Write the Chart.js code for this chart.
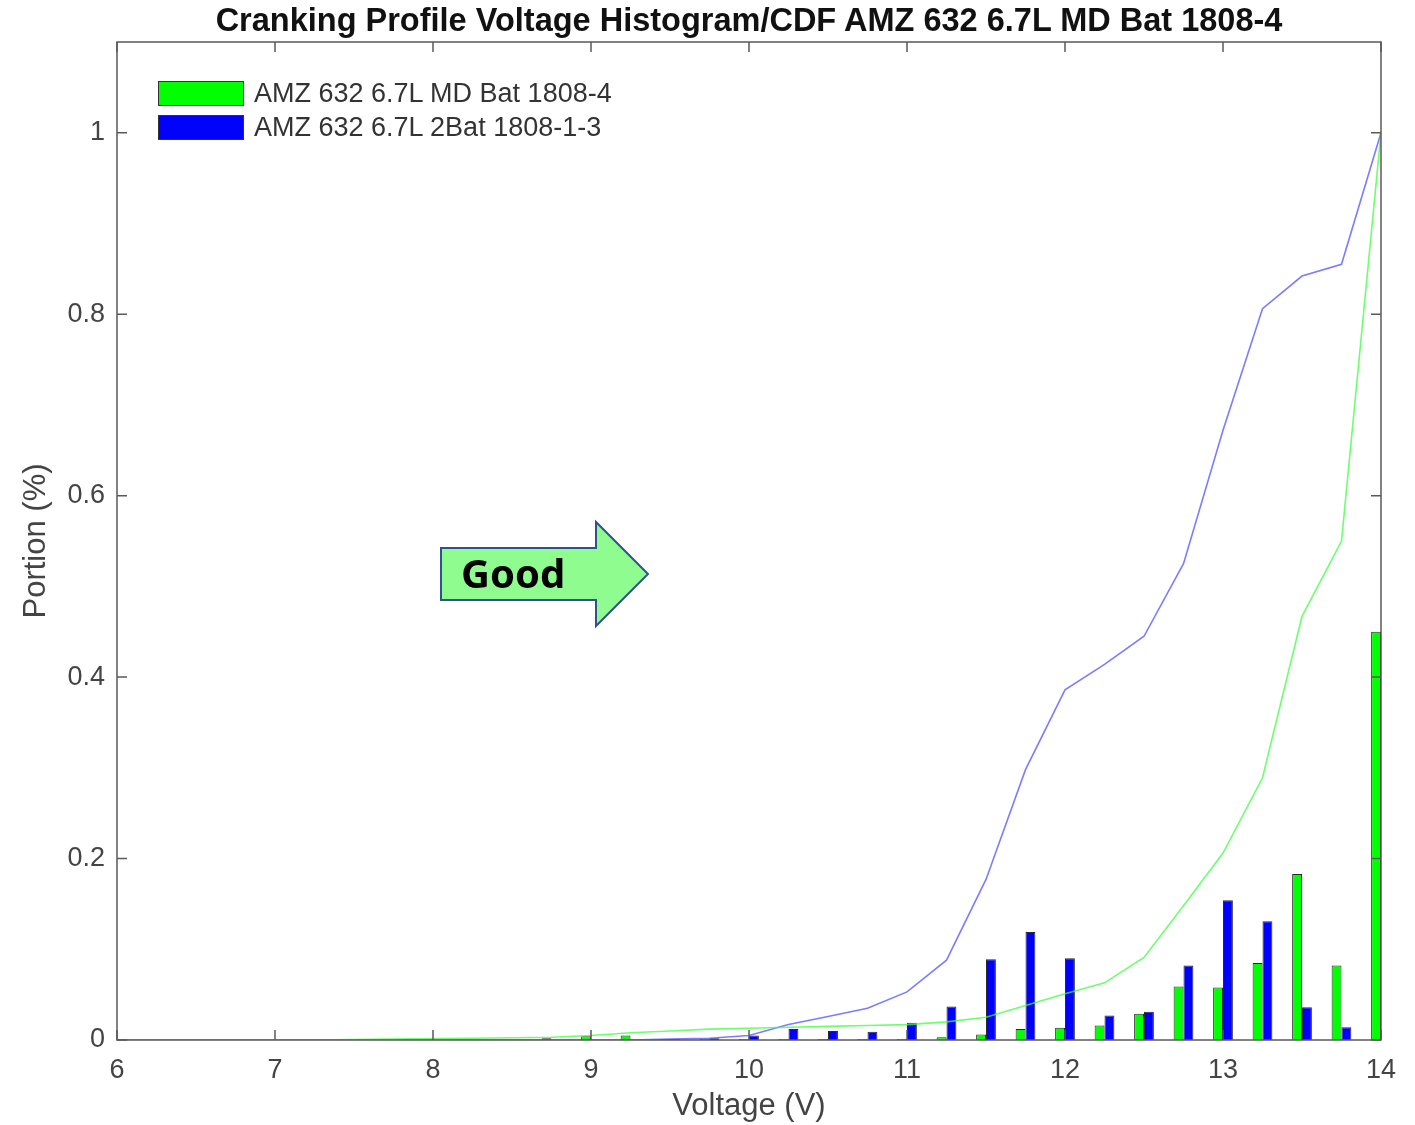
<!DOCTYPE html>
<html lang="en">
<head>
<meta charset="UTF-8">
<title>Cranking Profile Voltage Histogram/CDF</title>
<style>
  body { margin: 0; background: #fff; }
  #wrap { position: relative; width: 1415px; height: 1125px; }
  #title { position: absolute; left: 117px; width: 1264px; top: 3px; text-align: center; white-space: nowrap;
           font-family: "Liberation Sans", Arial, sans-serif; font-weight: bold; font-size: 32.5px; line-height: 34px; color: #111; }
  .legend-row { position: absolute; left: 158px; height: 25px; display: flex; align-items: center;
                font-family: "Liberation Sans", Arial, sans-serif; font-size: 27px; color: #333; }
  .swatch { width: 84px; height: 23px; border: 1px solid #333; margin-right: 10px; }
  #arrow { position: absolute; left: 0; top: 0; pointer-events: none; }
</style>
</head>
<body>
<div id="wrap">
  <canvas id="chart" width="1415" height="1125"></canvas>
  <div id="title">Cranking Profile Voltage Histogram/CDF AMZ 632 6.7L MD Bat 1808-4</div>
  <div class="legend-row" style="top:81px"><div class="swatch" style="background:#00ff00"></div>AMZ 632 6.7L MD Bat 1808-4</div>
  <div class="legend-row" style="top:115px"><div class="swatch" style="background:#0000ff"></div>AMZ 632 6.7L 2Bat 1808-1-3</div>
  <svg id="arrow" width="1415" height="1125">
    <polygon points="441,548 596,548 596,522 648,574 596,626 596,600 441,600"
             fill="#8efc8e" stroke="#2f528f" stroke-width="2"/>
    <text x="461" y="588" font-family="'Noto Sans', sans-serif" font-weight="bold" font-size="40" fill="#000">Good</text>
  </svg>
</div>

<script src="https://cdn.jsdelivr.net/npm/chart.js"></script>
<script>
// voltage bins (V), 0.25 V apart
const voltageBins = [6, 6.25, 6.5, 6.75, 7, 7.25, 7.5, 7.75, 8, 8.25, 8.5, 8.75, 9, 9.25, 9.5, 9.75,
                     10, 10.25, 10.5, 10.75, 11, 11.25, 11.5, 11.75, 12, 12.25, 12.5, 12.75, 13, 13.25, 13.5, 13.75, 14];

// histogram portions
const mdBatHist = [0, 0, 0, 0, 0, 0, 0, 0, 0, 0, 0, 0.002, 0.004, 0.005, 0.001, 0.001,
                   0.001, 0.001, 0.001, 0.001, 0.001, 0.003, 0.006, 0.012, 0.0135, 0.016, 0.029, 0.059, 0.058, 0.085, 0.183, 0.082, 0.45];
const twoBatHist = [0, 0, 0, 0, 0, 0, 0, 0, 0, 0, 0, 0, 0, 0, 0.001, 0.002,
                    0.005, 0.012, 0.010, 0.009, 0.019, 0.037, 0.089, 0.119, 0.090, 0.027, 0.031, 0.082, 0.154, 0.131, 0.036, 0.014, 0];

// cumulative curves
const mdBatCdf = [0, 0, 0, 0, 0, 0, 0.0005, 0.001, 0.0015, 0.002, 0.0025, 0.003, 0.005, 0.008, 0.010, 0.012,
                  0.013, 0.014, 0.015, 0.016, 0.017, 0.020, 0.025, 0.038, 0.051, 0.063, 0.091, 0.148, 0.206, 0.289, 0.467, 0.55, 1.0];
const twoBatCdf = [0, 0, 0, 0, 0, 0, 0, 0, 0, 0, 0, 0, 0, 0, 0.001, 0.002,
                   0.005, 0.017, 0.026, 0.035, 0.053, 0.088, 0.177, 0.298, 0.386, 0.414, 0.445, 0.525, 0.672, 0.806, 0.842, 0.855, 1.0];

const xTicks = [6, 7, 8, 9, 10, 11, 12, 13, 14];
const yTicks = [0, 0.2, 0.4, 0.6, 0.8, 1];

const pts = arr => arr.map((v, i) => ({ x: voltageBins[i], y: v }));

Chart.defaults.font.family = '"Liberation Sans", Arial, Helvetica, sans-serif';
Chart.defaults.color = '#444';

// box around the plot with inward ticks on all four sides
const framePlugin = {
  id: 'frame',
  afterDatasetsDraw(chart) {
    const { ctx, chartArea: a, scales: { x, y } } = chart;
    ctx.save();
    ctx.strokeStyle = '#5a5a5a';
    ctx.lineWidth = 1.5;
    ctx.strokeRect(a.left, a.top, a.right - a.left, a.bottom - a.top);
    ctx.beginPath();
    x.ticks.forEach(t => {
      const px = x.getPixelForValue(t.value);
      ctx.moveTo(px, a.bottom); ctx.lineTo(px, a.bottom - 10);
      ctx.moveTo(px, a.top); ctx.lineTo(px, a.top + 10);
    });
    y.ticks.forEach(t => {
      const py = y.getPixelForValue(t.value);
      ctx.moveTo(a.left, py); ctx.lineTo(a.left + 10, py);
      ctx.moveTo(a.right, py); ctx.lineTo(a.right - 10, py);
    });
    ctx.stroke();
    ctx.restore();
  }
};

new Chart(document.getElementById('chart'), {
  type: 'bar',
  data: {
    datasets: [
      { type: 'line', data: pts(mdBatCdf), borderColor: 'rgba(60,255,60,0.75)', borderWidth: 1.6,
        pointRadius: 0, fill: false, order: 0 },
      { type: 'line', data: pts(twoBatCdf), borderColor: 'rgba(80,80,255,0.75)', borderWidth: 1.6,
        pointRadius: 0, fill: false, order: 0 },
      { label: 'AMZ 632 6.7L MD Bat 1808-4', data: pts(mdBatHist), backgroundColor: '#00ff00',
        borderColor: '#2a2a2a', borderWidth: 1, order: 1 },
      { label: 'AMZ 632 6.7L 2Bat 1808-1-3', data: pts(twoBatHist), backgroundColor: '#0000ff',
        borderColor: '#2a2a2a', borderWidth: 1, order: 1 }
    ]
  },
  options: {
    responsive: false,
    animation: false,
    categoryPercentage: 0.5,
    barPercentage: 1,
    layout: { padding: { top: 42, right: 34, left: 0, bottom: 0 } },
    plugins: {
      legend: { display: false },
      tooltip: { enabled: false },
      title: { display: false }
    },
    scales: {
      x: {
        type: 'linear', min: 6, max: 14, offset: false,
        grid: { display: false },
        border: { display: false },
        afterBuildTicks: s => { s.ticks = xTicks.map(v => ({ value: v })); },
        afterFit: s => { s.height = 85; },
        ticks: { font: { size: 27 }, padding: 6, maxRotation: 0 },
        title: { display: true, text: 'Voltage (V)', font: { size: 31 }, color: '#444', padding: { bottom: 0 } }
      },
      y: {
        min: 0, max: 1.1,
        grid: { display: false },
        border: { display: false },
        afterBuildTicks: s => { s.ticks = yTicks.map(v => ({ value: v })); },
        afterFit: s => { s.width = 117; },
        ticks: { font: { size: 27 }, padding: 4, callback: v => String(Math.round(v * 10) / 10) },
        title: { display: true, text: 'Portion (%)', font: { size: 31 }, color: '#444', padding: { top: 18 } }
      }
    }
  },
  plugins: [framePlugin]
});
</script>
</body>
</html>
